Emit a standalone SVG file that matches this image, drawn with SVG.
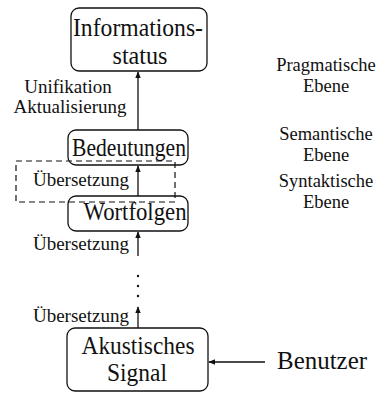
<svg xmlns="http://www.w3.org/2000/svg" width="386" height="396" viewBox="0 0 386 396">
<style>
text{font-family:"Liberation Serif","Times New Roman",serif;fill:#111}
.box{fill:#fff;stroke:#111;stroke-width:1.3}
.big{font-size:25px;text-anchor:middle}
.lab{font-size:19px}
.lvl{font-size:18.5px;text-anchor:middle}
.ln{stroke:#111;stroke-width:1.3;fill:none}
.dash{stroke:#111;stroke-width:1.2;fill:none;stroke-dasharray:6 4}
</style>
<defs>
<marker id="ah" viewBox="0 0 10 10" refX="9" refY="5" markerWidth="7" markerHeight="7" markerUnits="userSpaceOnUse" orient="auto">
<path d="M0,1 L10,5 L0,9 z" fill="#111"/>
</marker>
</defs>
<g id="informationsstatus">
<rect class="box" x="71" y="8" width="136" height="63" rx="8"/>
<text class="big" x="138" y="36" textLength="130" lengthAdjust="spacingAndGlyphs">Informations-</text>
<text class="big" x="140" y="64" textLength="55" lengthAdjust="spacingAndGlyphs">status</text>
</g>
<g id="bedeutungen">
<rect class="box" x="68" y="130" width="120" height="35" rx="8"/>
<text class="big" x="129" y="156" textLength="114" lengthAdjust="spacingAndGlyphs">Bedeutungen</text>
</g>
<g id="wortfolgen">
<rect class="box" x="68" y="196" width="120" height="35" rx="8"/>
<text class="big" x="135" y="220" textLength="103" lengthAdjust="spacingAndGlyphs">Wortfolgen</text>
</g>
<g id="akustisches-signal">
<rect class="box" x="67" y="328" width="141" height="63" rx="8"/>
<text class="big" x="138" y="354" textLength="113" lengthAdjust="spacingAndGlyphs">Akustisches</text>
<text class="big" x="137" y="381" textLength="60" lengthAdjust="spacingAndGlyphs">Signal</text>
</g>
<g id="benutzer">
<text x="277" y="369" style="font-size:25px" textLength="90" lengthAdjust="spacingAndGlyphs">Benutzer</text>
</g>
<g id="ebenen">
<text class="lvl" x="326" y="71">Pragmatische</text>
<text class="lvl" x="326" y="92">Ebene</text>
<text class="lvl" x="326" y="140">Semantische</text>
<text class="lvl" x="326" y="161">Ebene</text>
<text class="lvl" x="326" y="187">Syntaktische</text>
<text class="lvl" x="326" y="208">Ebene</text>
</g>
<g id="connectors">
<path class="ln" d="M138,130 V72" marker-end="url(#ah)"/>
<path class="ln" d="M138,196 V166" marker-end="url(#ah)"/>
<path class="ln" d="M138,256 V232" marker-end="url(#ah)"/>
<path class="ln" d="M138,328 V307" marker-end="url(#ah)"/>
<path class="ln" d="M265,362 H209" marker-end="url(#ah)"/>
<rect class="dash" x="16" y="161" width="159" height="41"/>
<circle cx="138" cy="276" r="1.2" fill="#111"/>
<circle cx="138" cy="286" r="1.2" fill="#111"/>
<circle cx="138" cy="296" r="1.2" fill="#111"/>
</g>
<g id="labels">
<text class="lab" x="68" y="93" text-anchor="middle">Unifikation</text>
<text class="lab" x="70" y="113" text-anchor="middle">Aktualisierung</text>
<text class="lab" x="129" y="186" text-anchor="end">Übersetzung</text>
<text class="lab" x="129" y="250" text-anchor="end">Übersetzung</text>
<text class="lab" x="129" y="322" text-anchor="end">Übersetzung</text>
</g>
</svg>
